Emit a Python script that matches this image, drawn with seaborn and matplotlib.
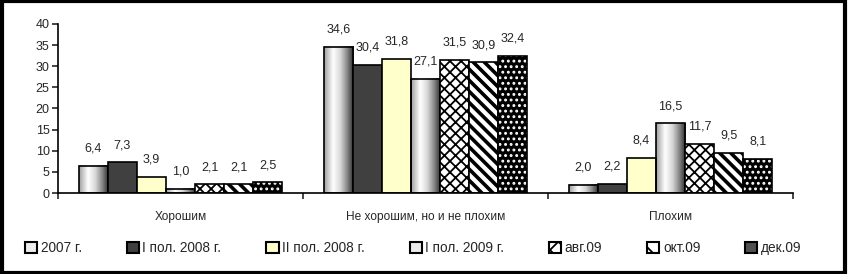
import matplotlib
matplotlib.use("Agg")
import matplotlib.pyplot as plt
import matplotlib.patches as mpatches
from matplotlib.colors import LinearSegmentedColormap
import numpy as np
import pandas as pd
import seaborn as sns

# data
categories = ["Хорошим", "Не хорошим, но и не плохим", "Плохим"]
periods = ["2007 г.", "I пол. 2008 г.", "II пол. 2008 г.", "I пол. 2009 г.",
           "авг.09", "окт.09", "дек.09"]
good = [6.4, 7.3, 3.9, 1.0, 2.1, 2.1, 2.5]
neutral = [34.6, 30.4, 31.8, 27.1, 31.5, 30.9, 32.4]
bad = [2.0, 2.2, 8.4, 16.5, 11.7, 9.5, 8.1]

rows = []
for cat, vals in zip(categories, [good, neutral, bad]):
    for p, v in zip(periods, vals):
        rows.append({"cat": cat, "period": p, "value": v})
df = pd.DataFrame(rows)

# bar styles per period
palette = {
    "2007 г.": "white",
    "I пол. 2008 г.": "#404040",
    "II пол. 2008 г.": "#ffffcc",
    "I пол. 2009 г.": "white",
    "авг.09": "white",
    "окт.09": "white",
    "дек.09": "black",
}
kind = {
    "2007 г.": "gradient",
    "I пол. 2008 г.": "plain",
    "II пол. 2008 г.": "plain",
    "I пол. 2009 г.": "gradient",
    "авг.09": "xxx",
    "окт.09": "\\\\\\",
    "дек.09": "dots",
}

sns.set_style("white")
plt.rcParams["font.family"] = ["Liberation Sans", "DejaVu Sans"]
plt.rcParams["hatch.linewidth"] = 1.3

fig = plt.figure(figsize=(8.48, 2.74), dpi=100)
ax = fig.add_axes([58 / 848, 1 - 193 / 274, (793 - 58) / 848, (193 - 24) / 274])

sns.barplot(data=df, x="cat", y="value", hue="period", order=categories,
            hue_order=periods, palette=palette, width=0.83, saturation=1,
            edgecolor="black", linewidth=1.2, legend=False, ax=ax)

cyl = LinearSegmentedColormap.from_list(
    "cyl", [(0, "#a0a0a0"), (0.3, "#ffffff"), (0.55, "#d8d8d8"),
            (0.8, "#808080"), (1, "#2a2a2a")])
grad = np.linspace(0, 1, 64).reshape(1, -1)

for period, cont in zip(periods, ax.containers):
    k = kind[period]
    for bar in cont:
        x0, y0 = bar.get_x(), bar.get_y()
        w, h = bar.get_width(), bar.get_height()
        bar.set_zorder(2)
        if k == "gradient":
            bar.set_facecolor("none")
            ax.imshow(grad, cmap=cyl, extent=[x0, x0 + w, y0, y0 + h],
                      aspect="auto", zorder=1.5, interpolation="bicubic")
        elif k == "dots":
            bar.set_edgecolor("white")
            bar.set_linewidth(0)
            bar.set_hatch("...")
            ax.add_patch(mpatches.Rectangle((x0, y0), w, h, fill=False,
                                            edgecolor="black", linewidth=1.2,
                                            zorder=2.5))
        elif k != "plain":
            bar.set_hatch(k)
            if k.startswith("\\") and hasattr(bar, "set_hatch_linewidth"):
                bar.set_hatch_linewidth(2.6)
    labels = [f"{v:.1f}".replace(".", ",") for v in cont.datavalues]
    ax.bar_label(cont, labels=labels, padding=8, fontsize=9)

ax.set_xlim(-0.5, 2.5)
ax.set_ylim(0, 40)
ax.set_yticks(range(0, 41, 5))
ax.set_xlabel("")
ax.set_ylabel("")
ax.set_xticks([-0.5, 0.5, 1.5, 2.5], minor=True)
ax.tick_params(axis="x", which="major", length=0, pad=13, labelsize=8.6)
ax.tick_params(axis="x", which="minor", length=4, width=1.2, direction="out",
               bottom=True)
ax.tick_params(axis="y", length=4, width=1.2, direction="out", left=True,
               pad=2, labelsize=9)
for s in ["top", "right"]:
    ax.spines[s].set_visible(False)
for s in ["left", "bottom"]:
    ax.spines[s].set_linewidth(1.2)
    ax.spines[s].set_color("black")

# legend
handles = []
for period in periods:
    k = kind[period]
    if k == "gradient":
        handles.append(mpatches.Patch(facecolor="#ececec", edgecolor="black",
                                      linewidth=1.5, label=period))
    elif k == "dots":
        handles.append(mpatches.Patch(facecolor="#505050", edgecolor="black",
                                      linewidth=1.5, label=period))
    elif k == "plain":
        handles.append(mpatches.Patch(facecolor=palette[period],
                                      edgecolor="black", linewidth=1.5,
                                      label=period))
    else:
        handles.append(mpatches.Patch(facecolor="white", edgecolor="black",
                                      linewidth=1.5, hatch=k[:2], label=period))
fig.legend(handles=handles, loc="center left", bbox_to_anchor=(25 / 848, 1 - 248 / 274),
           ncol=7, frameon=False, fontsize=9.8, handlelength=0.9,
           handleheight=0.9, handletextpad=0.25, columnspacing=3.3,
           borderpad=0, borderaxespad=0)

fig.add_artist(mpatches.Rectangle((0.002, 0.004), 0.994, 0.992, fill=False,
                                  edgecolor="black", linewidth=3,
                                  transform=fig.transFigure))

fig.savefig("out.png", dpi=100)
